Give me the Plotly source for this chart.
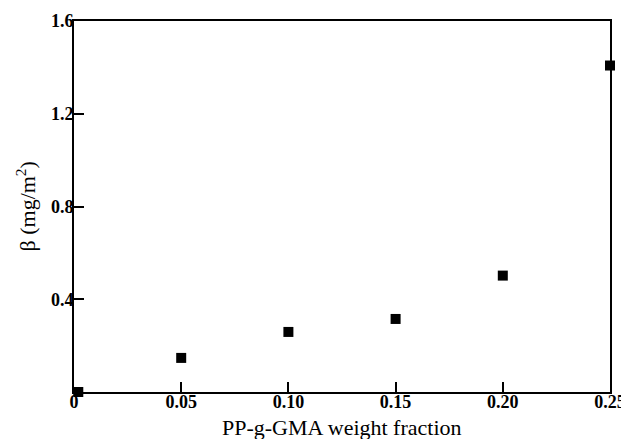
import plotly.graph_objects as go

# データ
weight_fraction = [0.002, 0.05, 0.10, 0.15, 0.20, 0.25]
beta = [0.0, 0.147, 0.259, 0.315, 0.502, 1.408]

x_ticks = [0, 0.05, 0.10, 0.15, 0.20, 0.25]
x_labels = ["0", "0.05", "0.10", "0.15", "0.20", "0.25"]
y_ticks = [0, 0.4, 0.8, 1.2, 1.6]
y_labels = ["", "0.4", "0.8", "1.2", "1.6"]  # 原点の "0" は x 軸側で共用

x_title = "PP-g-GMA weight fraction"
y_title = "β (mg/m<sup>2</sup>)"

fig = go.Figure()
fig.add_trace(go.Scatter(
    x=weight_fraction,
    y=beta,
    mode="markers",
    marker=dict(symbol="square", size=10, color="black"),
    cliponaxis=False,
    showlegend=False,
))

tick_font = dict(family="Liberation Serif", size=18, color="black", weight="bold")
title_font = dict(family="Liberation Serif", size=22, color="black", weight="normal")

common_axis = dict(
    ticks="inside",
    ticklen=10,
    tickwidth=1.5,
    tickcolor="black",
    showline=True,
    linecolor="black",
    linewidth=2,
    mirror=True,
    showgrid=False,
    zeroline=False,
    tickfont=tick_font,
    automargin=False,
)

# ページ本体の余白 (8px) を見込んでサイズと余白を調整
fig.update_layout(
    width=621,
    height=431,
    margin=dict(l=66, r=19, t=13, b=47),
    paper_bgcolor="white",
    plot_bgcolor="white",
    xaxis=dict(range=[0, 0.25], tickvals=x_ticks, ticktext=x_labels,
               ticklabelstandoff=-8, **common_axis),
    yaxis=dict(range=[0, 1.6], tickvals=y_ticks, ticktext=y_labels,
               ticklabelstandoff=-5, **common_axis),
)

# 軸タイトル（位置を細かく合わせるため注釈で配置）
fig.add_annotation(
    text=x_title, xref="paper", yref="paper", x=0.5, y=0,
    xanchor="center", yanchor="middle", yshift=-35,
    showarrow=False, font=title_font,
)
fig.add_annotation(
    text=y_title, xref="paper", yref="paper", x=0, y=0.5,
    xanchor="center", yanchor="middle", xshift=-49, textangle=-90,
    showarrow=False, font=title_font,
)

fig.write_html("out.html")
